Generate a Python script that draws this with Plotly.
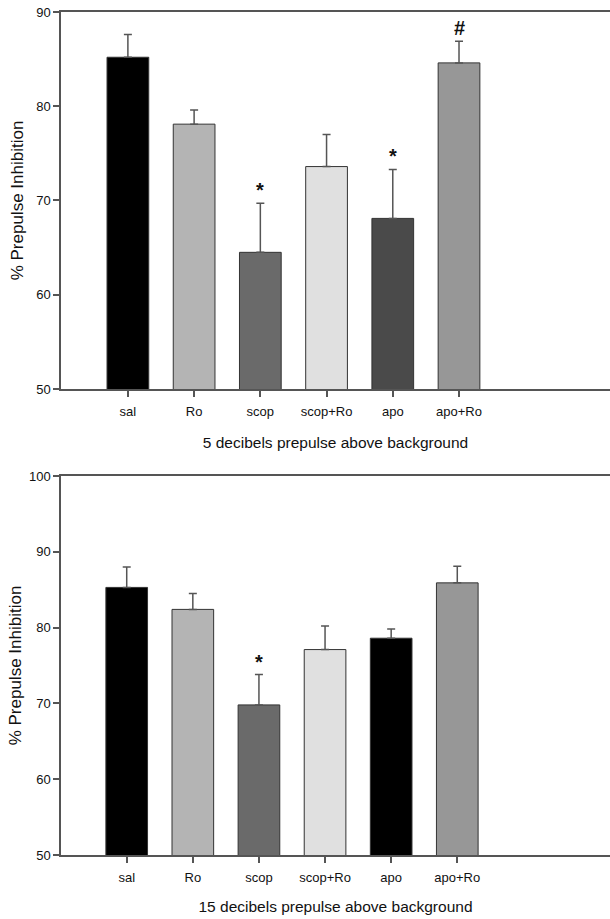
import plotly.graph_objects as go

categories = ["sal", "Ro", "scop", "scop+Ro", "apo", "apo+Ro"]

top_means = [85.2, 78.1, 64.5, 73.6, 68.1, 84.6]
top_err = [2.4, 1.5, 5.2, 3.4, 5.2, 2.3]
top_marks = ["", "", "*", "", "*", "#"]
top_colors = ["#000000", "#b4b4b4", "#6a6a6a", "#e0e0e0", "#4a4a4a", "#979797"]

bot_means = [85.3, 82.4, 69.8, 77.1, 78.6, 85.9]
bot_err = [2.7, 2.1, 4.0, 3.1, 1.2, 2.2]
bot_marks = ["", "", "*", "", "", ""]
bot_colors = ["#000000", "#b4b4b4", "#6a6a6a", "#e0e0e0", "#000000", "#979797"]

FONT = "Liberation Sans, Arial, sans-serif"
AX = "#555555"
TXT = "#111111"

fig = go.Figure()

def add_panel(means, err, colors, xa, ya):
    fig.add_trace(go.Bar(
        x=categories, y=means, xaxis=xa, yaxis=ya,
        width=0.63,
        marker=dict(color=colors, line=dict(color="#333333", width=1)),
        error_y=dict(type="data", array=err, arrayminus=[0]*len(err),
                     symmetric=False, color=AX, thickness=1.5, width=4),
        showlegend=False, hoverinfo="skip",
    ))

add_panel(top_means, top_err, top_colors, "x", "y")
add_panel(bot_means, bot_err, bot_colors, "x2", "y2")

annotations = []
for c, m, e, t in zip(categories, top_means, top_err, top_marks):
    if t:
        annotations.append(dict(x=c, y=m + e, xref="x", yref="y", text="<b>" + t + "</b>",
                                showarrow=False, yanchor="bottom", yshift=0,
                                font=dict(family=FONT, size=20, color="#111")))
for c, m, e, t in zip(categories, bot_means, bot_err, bot_marks):
    if t:
        annotations.append(dict(x=c, y=m + e, xref="x2", yref="y2", text="<b>" + t + "</b>",
                                showarrow=False, yanchor="bottom", yshift=0,
                                font=dict(family=FONT, size=20, color="#111")))

xcommon = dict(type="category", showline=True, linecolor=AX, linewidth=1.5,
               mirror=True, ticks="outside", ticklen=6, tickwidth=1.5,
               tickcolor=AX, showgrid=False, zeroline=False, ticklabelstandoff=4,
               tickfont=dict(family=FONT, size=13, color=TXT))
ycommon = dict(showline=True, linecolor=AX, linewidth=1.5, mirror=False,
               ticks="outside", ticklen=6, tickwidth=1.5, tickcolor=AX,
               showgrid=False, zeroline=False, dtick=10,
               tickfont=dict(family=FONT, size=13, color=TXT))

fig.update_layout(
    width=610, height=919,
    margin=dict(l=61, r=0, t=12, b=64),
    paper_bgcolor="white", plot_bgcolor="white",
    xaxis=dict(**xcommon, anchor="y", range=[-1.01, 7.28],
               title=dict(text="5 decibels prepulse above background", standoff=19,
                          font=dict(family=FONT, size=15.5, color=TXT))),
    yaxis=dict(**ycommon, domain=[0.5528, 1.0], range=[50, 90], anchor="x",
               title=dict(text="% Prepulse Inhibition", standoff=8,
                          font=dict(family=FONT, size=17, color=TXT))),
    xaxis2=dict(**xcommon, anchor="y2", range=[-0.994, 7.31],
                title=dict(text="15 decibels prepulse above background", standoff=17,
                           font=dict(family=FONT, size=15.5, color=TXT))),
    yaxis2=dict(**ycommon, domain=[0.0, 0.4496], range=[50, 100], anchor="x2",
                title=dict(text="% Prepulse Inhibition", standoff=3,
                           font=dict(family=FONT, size=17, color=TXT))),
    annotations=annotations,
)

fig.write_html("out.html", config={"displayModeBar": False},
               post_script="document.body.style.margin='0';document.body.style.overflow='hidden';")
